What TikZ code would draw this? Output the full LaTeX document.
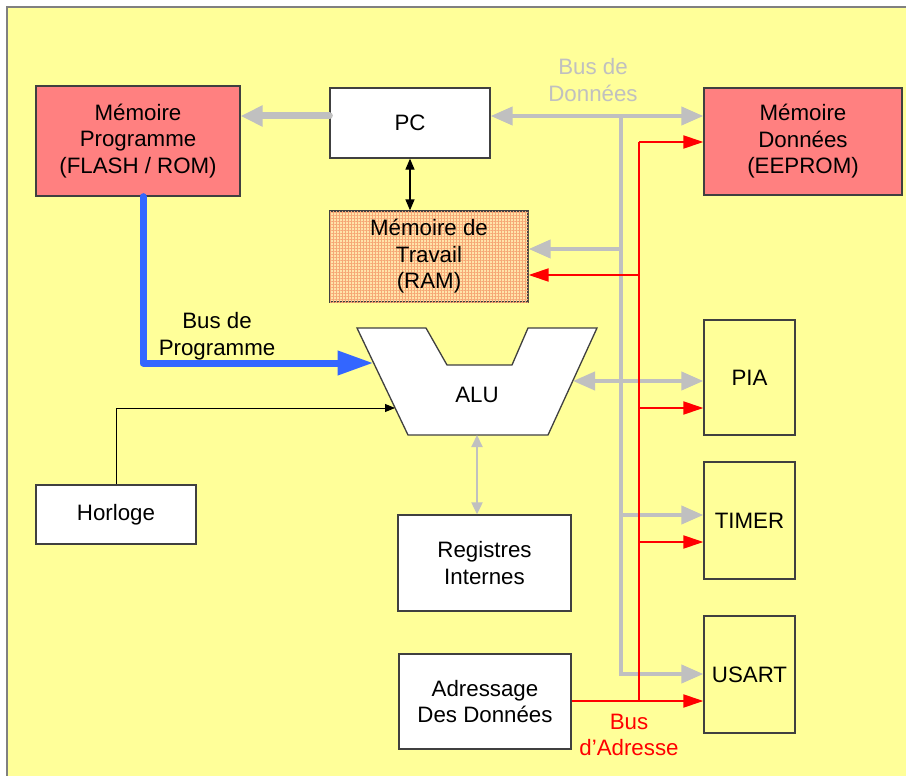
\documentclass[tikz,border=0pt]{standalone}
\usepackage{fontspec}
\setmainfont{Liberation Sans}
\usetikzlibrary{arrows.meta,patterns.meta,calc}
\definecolor{bg}{RGB}{255,255,153}
\definecolor{memred}{RGB}{255,128,128}
\definecolor{busgray}{RGB}{192,192,192}
\definecolor{busblue}{RGB}{51,102,255}
\definecolor{boxline}{RGB}{64,64,64}
\definecolor{ramfill}{RGB}{255,228,170}
\definecolor{ramgrid}{RGB}{246,168,118}
\definecolor{busred}{RGB}{255,0,0}
\begin{document}
\begin{tikzpicture}[x=1pt,y=-1pt,
  font=\fontsize{22.3}{26.5}\selectfont,
  blk/.style 2 args={draw=boxline,line width=1.3pt,align=center,inner sep=0pt,
    minimum width=#1,minimum height=#2},
  gline/.style={draw=busgray,line width=4pt},
  gthin/.style={draw=busgray,line width=2pt},
  rline/.style={draw=busred,line width=2pt},
  bline/.style={draw=busblue,line width=7pt},
  kline/.style={draw=black,line width=1.3pt},
  garr/.style={-{Triangle[length=22pt,width=18pt]}},
  gdarr/.style={{Triangle[length=22pt,width=18pt]}-{Triangle[length=22pt,width=18pt]}},
  gsdarr/.style={{Triangle[length=12pt,width=11pt]}-{Triangle[length=12pt,width=11pt]}},
  rarr/.style={-{Triangle[length=20pt,width=13pt]}},
  barr/.style={-{Triangle[length=36pt,width=23pt]}},
  kdarr/.style={{Triangle[length=11pt,width=9pt]}-{Triangle[length=11pt,width=9pt]}},
  karr/.style={-{Triangle[length=10pt,width=8pt]}},
]
\useasboundingbox (0,0) rectangle (906,776);
\clip (0,0) rectangle (906,776);
\fill[white] (0,0) rectangle (906,776);
\draw[fill=bg,draw=gray,line width=2pt] (7,7) rectangle (920,790);

% blocks
\node[blk={204pt}{110pt},fill=memred] (mp) at (138,141) {Mémoire\\Programme\\(FLASH / ROM)};
\node[blk={160pt}{70pt},fill=white] (pc) at (410,123) {PC};
\node[blk={198pt}{107pt},fill=memred] (md) at (803,141.5) {Mémoire\\Données\\(EEPROM)};
\node[blk={198pt}{91pt},fill=ramfill,
  postaction={pattern={Lines[distance=3pt,angle=0,line width=0.7pt]},pattern color=ramgrid},
  postaction={pattern={Lines[distance=3pt,angle=90,line width=0.7pt]},pattern color=ramgrid}] (ram) at (429,256.5) {};
\node[align=center] (ramtxt) at (ram.center) {Mémoire de\\Travail\\(RAM)};
\node[blk={160pt}{59pt},fill=white] (hor) at (116,514.5) {Horloge};
\node[blk={173pt}{96pt},fill=white] (reg) at (484.5,563) {Registres\\Internes};
\node[blk={172pt}{95pt},fill=white] (adr) at (485,701.5) {Adressage\\Des Données};
\node[blk={91pt}{115pt},fill=bg] (pia) at (749.5,377.5) {PIA};
\node[blk={91pt}{117pt},fill=bg] (timer) at (749.5,520.5) {TIMER};
\node[blk={91pt}{117pt},fill=bg] (usart) at (749.5,674.5) {USART};

% ALU
\draw[fill=white,draw=boxline,line width=1.3pt,line join=miter]
  (357,328) -- (426,328) -- (447,365) -- (512,365) -- (528,328) -- (597,328)
  -- (548,435) -- (408,435) -- cycle;
\node (alu) at (477,395) {ALU};
\coordinate (aluBlue) at (373.5,363);
\coordinate (aluClk) at (395,408);
\coordinate (aluR) at (573,381);
\coordinate (aluB) at (477,435);

% labels
\node[align=center,text=busgray] (lbd) at (593,80) {Bus de\\Données};
\node[align=center] (lbp) at (217,336) {Bus de\\Programme};
\node[align=center,text=busred] (lba) at (629,735) {Bus\\d’Adresse};

% gray data bus
\coordinate (g1) at (621,116);
\coordinate (gbot) at (621,674);
\coordinate (gram) at (621,249);
\coordinate (gtim) at (621,515);
\draw[draw=busgray,line width=7pt,line cap=round,-{Triangle[length=22pt,width=20pt]}] (pc.west |- g1) -- (mp.east |- g1);
\draw[gline,gdarr] (pc.east |- g1) -- (md.west |- g1);
\draw[gline,garr] (g1) -- (gbot) -- (usart.west |- gbot);
\draw[gline,garr] (gram) -- (ram.east |- gram);
\draw[gline,garr] (gtim) -- (timer.west |- gtim);
\draw[gline,gdarr] (aluR) -- (pia.west |- aluR);
\draw[gthin,gsdarr] (aluB) -- (aluB |- reg.north);

% red address bus
\coordinate (r1) at (639,142);
\coordinate (rbot) at (639,701);
\coordinate (rram) at (639,275);
\coordinate (rpia) at (639,408);
\coordinate (rtim) at (639,542);
\draw[rline] (r1) -- (rbot);
\draw[rline,rarr] (r1) -- (md.west |- r1);
\draw[rline,rarr] (rram) -- (ram.east |- rram);
\draw[rline,rarr] (rpia) -- (pia.west |- rpia);
\draw[rline,rarr] (rtim) -- (timer.west |- rtim);
\draw[rline,rarr] (adr.east |- rbot) -- (usart.west |- rbot);

% program bus
\coordinate (bc) at (143,363);
\draw[bline,line cap=round,line join=round,barr] (mp.south -| bc) -- (bc) -- (aluBlue);

% black links
\draw[kline,kdarr] (pc.south) -- (pc.south |- ram.north);
\draw[draw=black,line width=1pt,karr] (hor.north) -- (hor.north |- aluClk) -- (aluClk);
\end{tikzpicture}
\end{document}
